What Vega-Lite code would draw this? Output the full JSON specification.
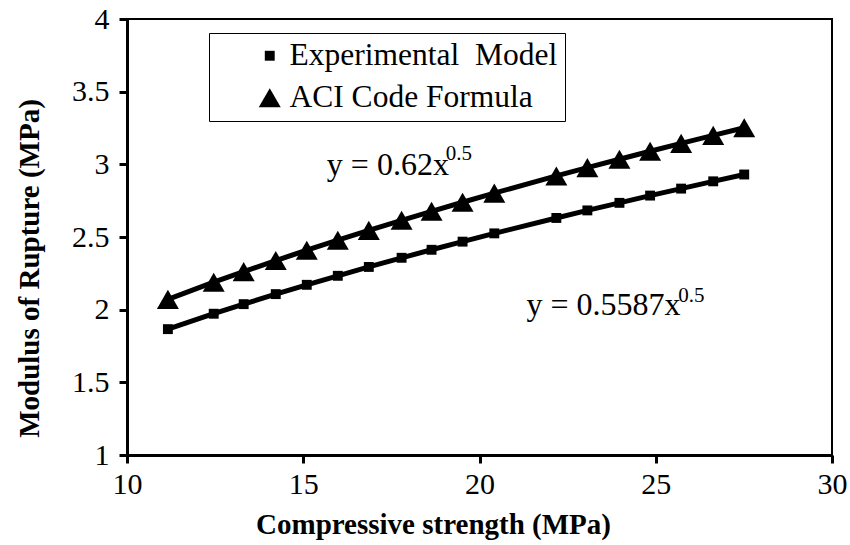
{
  "$schema": "https://vega.github.io/schema/vega-lite/v6.json",
  "width": 705,
  "height": 436,
  "autosize": "none",
  "padding": {"left": 127, "top": 19, "right": 18, "bottom": 90},
  "background": "white",
  "config": {
    "font": "Liberation Serif",
    "view": {"stroke": "black", "strokeWidth": 2},
    "axis": {
      "grid": false,
      "domainColor": "black",
      "domainWidth": 3,
      "tickColor": "black",
      "tickWidth": 3,
      "tickSize": 8,
      "labelColor": "black",
      "labelFont": "Liberation Serif",
      "labelFontSize": 30,
      "labelFlush": false,
      "labelOverlap": false,
      "titleColor": "black",
      "titleFont": "Liberation Serif",
      "titleFontSize": 29,
      "titleFontWeight": "bold"
    },
    "legend": {
      "labelFont": "Liberation Serif",
      "labelFontSize": 31.5,
      "labelColor": "black",
      "labelLimit": 0
    }
  },
  "datasets": {
    "pts": [
      {"series": "Experimental  Model", "fc": 11.16, "mor": 1.866},
      {"series": "Experimental  Model", "fc": 12.46, "mor": 1.972},
      {"series": "Experimental  Model", "fc": 13.31, "mor": 2.038},
      {"series": "Experimental  Model", "fc": 14.22, "mor": 2.107},
      {"series": "Experimental  Model", "fc": 15.10, "mor": 2.171},
      {"series": "Experimental  Model", "fc": 15.98, "mor": 2.233},
      {"series": "Experimental  Model", "fc": 16.86, "mor": 2.294},
      {"series": "Experimental  Model", "fc": 17.79, "mor": 2.357},
      {"series": "Experimental  Model", "fc": 18.64, "mor": 2.412},
      {"series": "Experimental  Model", "fc": 19.52, "mor": 2.468},
      {"series": "Experimental  Model", "fc": 20.42, "mor": 2.525},
      {"series": "Experimental  Model", "fc": 22.18, "mor": 2.631},
      {"series": "Experimental  Model", "fc": 23.06, "mor": 2.683},
      {"series": "Experimental  Model", "fc": 23.97, "mor": 2.735},
      {"series": "Experimental  Model", "fc": 24.84, "mor": 2.785},
      {"series": "Experimental  Model", "fc": 25.72, "mor": 2.833},
      {"series": "Experimental  Model", "fc": 26.63, "mor": 2.883},
      {"series": "Experimental  Model", "fc": 27.51, "mor": 2.930},
      {"series": "ACI Code Formula", "fc": 11.16, "mor": 2.071},
      {"series": "ACI Code Formula", "fc": 12.46, "mor": 2.189},
      {"series": "ACI Code Formula", "fc": 13.31, "mor": 2.262},
      {"series": "ACI Code Formula", "fc": 14.22, "mor": 2.338},
      {"series": "ACI Code Formula", "fc": 15.10, "mor": 2.409},
      {"series": "ACI Code Formula", "fc": 15.98, "mor": 2.478},
      {"series": "ACI Code Formula", "fc": 16.86, "mor": 2.546},
      {"series": "ACI Code Formula", "fc": 17.79, "mor": 2.615},
      {"series": "ACI Code Formula", "fc": 18.64, "mor": 2.677},
      {"series": "ACI Code Formula", "fc": 19.52, "mor": 2.739},
      {"series": "ACI Code Formula", "fc": 20.42, "mor": 2.802},
      {"series": "ACI Code Formula", "fc": 22.18, "mor": 2.920},
      {"series": "ACI Code Formula", "fc": 23.06, "mor": 2.977},
      {"series": "ACI Code Formula", "fc": 23.97, "mor": 3.035},
      {"series": "ACI Code Formula", "fc": 24.84, "mor": 3.090},
      {"series": "ACI Code Formula", "fc": 25.72, "mor": 3.144},
      {"series": "ACI Code Formula", "fc": 26.63, "mor": 3.199},
      {"series": "ACI Code Formula", "fc": 27.51, "mor": 3.252}
    ],
    "notes": [
      {"label": "y = 0.62x", "fc": 15.67, "mor": 2.926},
      {"label": "y = 0.5587x", "fc": 21.33, "mor": 1.963}
    ],
    "sups": [
      {"label": "0.5", "fc": 19.04, "mor": 3.03},
      {"label": "0.5", "fc": 25.64, "mor": 2.05}
    ]
  },
  "layer": [
    {
      "data": {"name": "pts"},
      "mark": {"type": "line", "color": "black", "strokeWidth": 5},
      "encoding": {
        "x": {
          "field": "fc", "type": "quantitative",
          "scale": {"domain": [10, 30]},
          "axis": {
            "title": "Compressive strength (MPa)",
            "values": [10, 15, 20, 25, 30],
            "labelPadding": 6,
            "titleX": 306,
            "titleY": 78,
            "titleBaseline": "alphabetic"
          }
        },
        "y": {
          "field": "mor", "type": "quantitative",
          "scale": {"domain": [1, 4]},
          "axis": {
            "title": "Modulus of Rupture (MPa)",
            "values": [1, 1.5, 2, 2.5, 3, 3.5, 4],
            "format": "~g",
            "labelPadding": 10,
            "titleX": -89,
            "titleY": 249,
            "titleBaseline": "alphabetic",
            "titleAngle": -90,
            "titleAlign": "center"
          }
        },
        "detail": {"field": "series", "type": "nominal"}
      }
    },
    {
      "data": {"name": "pts"},
      "mark": {"type": "point", "filled": true, "color": "black", "opacity": 1, "size": 484},
      "encoding": {
        "x": {"field": "fc", "type": "quantitative"},
        "y": {"field": "mor", "type": "quantitative"},
        "shape": {
          "field": "series", "type": "nominal",
          "scale": {
            "domain": ["Experimental  Model", "ACI Code Formula"],
            "range": ["M-0.45,-0.45H0.45V0.45H-0.45Z", "M0,-0.87L1,0.87H-1Z"]
          },
          "legend": {
            "title": null,
            "orient": "none",
            "legendX": 82,
            "legendY": 14,
            "padding": 7,
            "strokeColor": "black",
            "fillColor": "white",
            "symbolSize": 484,
            "symbolOffset": 38,
            "labelOffset": 4,
            "rowPadding": 9,
            "labelExpr": "replace(datum.label, '  ', '\u00a0 ') + '\u00a0\u00a0\u00a0\u00a0\u00a0\u00a0'"
          }
        }
      }
    },
    {
      "data": {"name": "notes"},
      "mark": {"type": "text", "align": "left", "baseline": "alphabetic", "fontSize": 32, "font": "Liberation Serif", "color": "black"},
      "encoding": {
        "x": {"field": "fc", "type": "quantitative"},
        "y": {"field": "mor", "type": "quantitative"},
        "text": {"field": "label"}
      }
    },
    {
      "data": {"name": "sups"},
      "mark": {"type": "text", "align": "left", "baseline": "alphabetic", "fontSize": 21, "font": "Liberation Serif", "color": "black"},
      "encoding": {
        "x": {"field": "fc", "type": "quantitative"},
        "y": {"field": "mor", "type": "quantitative"},
        "text": {"field": "label"}
      }
    }
  ]
}
